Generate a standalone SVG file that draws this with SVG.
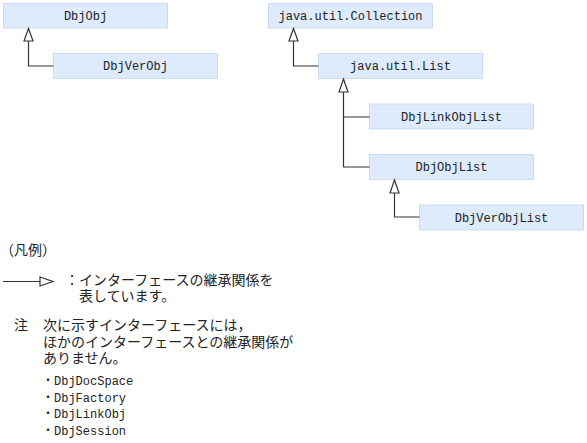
<svg xmlns="http://www.w3.org/2000/svg" width="587" height="443" viewBox="0 0 587 443">
<defs>
<style>
.box{fill:#ddebfc;stroke:#cbdcf2;stroke-width:1}
.lbl{font-family:"Liberation Mono","DejaVu Sans Mono",monospace;font-size:12px;fill:#222;text-anchor:middle}
.jp{font-family:"Noto Sans CJK JP","Noto Sans",sans-serif;font-size:14px;fill:#222}
.mono{font-family:"Liberation Mono","DejaVu Sans Mono",monospace;font-size:12px;fill:#222}
.bul{font-family:"Noto Sans CJK JP","Noto Sans",sans-serif;font-size:12px}
.ln{fill:none;stroke:#333;stroke-width:1.2}
.tri{fill:#fff;stroke:#333;stroke-width:1.2;stroke-linejoin:miter}
</style>
</defs>
<rect width="587" height="443" fill="#fff"/>
<g id="DbjObj"><rect class="box" x="3.5" y="3.5" width="164" height="24.5"/><text class="lbl" x="85.5" y="20">DbjObj</text></g>
<g id="DbjVerObj"><rect class="box" x="53.5" y="53.5" width="164" height="25"/><text class="lbl" x="135.5" y="70">DbjVerObj</text></g>
<g id="Collection"><rect class="box" x="268.5" y="3.5" width="164" height="24.5"/><text class="lbl" x="350.5" y="20">java.util.Collection</text></g>
<g id="List"><rect class="box" x="318.5" y="53.5" width="164" height="25"/><text class="lbl" x="400.5" y="70">java.util.List</text></g>
<g id="DbjLinkObjList"><rect class="box" x="369.5" y="104" width="164" height="25"/><text class="lbl" x="451.5" y="121">DbjLinkObjList</text></g>
<g id="DbjObjList"><rect class="box" x="369.5" y="154.5" width="164" height="25"/><text class="lbl" x="451.5" y="171">DbjObjList</text></g>
<g id="DbjVerObjList"><rect class="box" x="419.5" y="205" width="164" height="25"/><text class="lbl" x="501.5" y="222">DbjVerObjList</text></g>
<g id="connectors">
<path class="ln" d="M28.5 41 V66 H53.5"/>
<path class="tri" d="M28.5 28.5 L33 41 L24 41 Z"/>
<path class="ln" d="M293.5 41 V66 H318.5"/>
<path class="tri" d="M293.5 28.5 L298 41 L289 41 Z"/>
<path class="ln" d="M343.5 92 V167 H369.5 M343.5 117 H369.5"/>
<path class="tri" d="M343.5 79 L348 92 L339 92 Z"/>
<path class="ln" d="M394.5 193 V217 H419.5"/>
<path class="tri" d="M394.5 180 L399 193 L390 193 Z"/>
</g>
<g id="legend">
<text class="jp" x="0" y="255">（凡例）</text>
<path class="ln" d="M3 281.5 H40"/>
<path class="tri" d="M40 277 L53 281.5 L40 286 Z"/>
<text class="jp" x="65" y="285">：インターフェースの継承関係を</text>
<text class="jp" x="79" y="301">表しています。</text>
<text class="jp" x="14" y="330">注</text>
<text class="jp" x="43" y="330">次に示すインターフェースには，</text>
<text class="jp" x="43" y="347">ほかのインターフェースとの継承関係が</text>
<text class="jp" x="43" y="363">ありません。</text>
<text class="mono" x="42" y="385"><tspan class="bul">・</tspan>DbjDocSpace</text>
<text class="mono" x="42" y="402"><tspan class="bul">・</tspan>DbjFactory</text>
<text class="mono" x="42" y="418"><tspan class="bul">・</tspan>DbjLinkObj</text>
<text class="mono" x="42" y="435"><tspan class="bul">・</tspan>DbjSession</text>
</g>
</svg>
